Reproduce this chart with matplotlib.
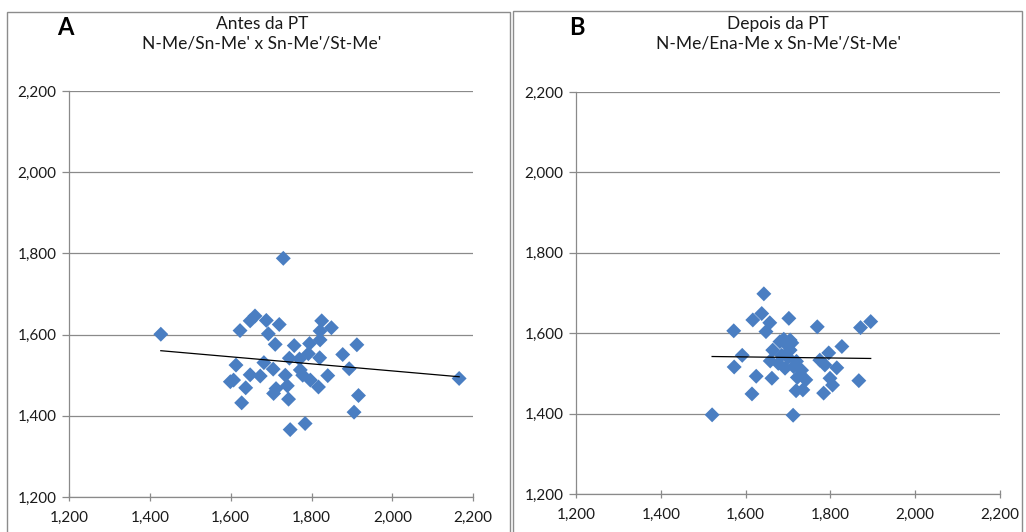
import numpy as np
import matplotlib
matplotlib.use("Agg")
import matplotlib.pyplot as plt
from matplotlib.patches import Rectangle
from matplotlib.ticker import FuncFormatter

# ---- Data: Panel A (Antes da PT) ----
a_x = [1730, 1427, 2165, 1623, 1648, 1660, 1688, 1720, 1693, 1710, 1757, 1795,
       1825, 1849, 1821, 1821, 1912, 1877, 1613, 1682, 1705, 1648, 1673, 1745,
       1770, 1792, 1820, 1772, 1735, 1778, 1797, 1817, 1840, 1893, 1599, 1607,
       1637, 1740, 1706, 1712, 1743, 1627, 1916, 1905, 1784, 1747]
a_y = [1788, 1601, 1492, 1610, 1634, 1646, 1635, 1625, 1602, 1576, 1573, 1578,
       1634, 1617, 1609, 1587, 1575, 1551, 1525, 1531, 1515, 1501, 1498, 1542,
       1540, 1553, 1543, 1513, 1500, 1500, 1488, 1471, 1499, 1516, 1484, 1488,
       1469, 1474, 1455, 1467, 1441, 1432, 1450, 1409, 1381, 1366]

# ---- Data: Panel B (Depois da PT) ----
b_x = [1643, 1638, 1617, 1657, 1702, 1769, 1871, 1895, 1572, 1648, 1681, 1690,
       1697, 1705, 1664, 1709, 1705, 1827, 1796, 1592, 1573, 1658, 1677, 1693,
       1713, 1732, 1775, 1787, 1815, 1625, 1662, 1722, 1742, 1799, 1805, 1867,
       1615, 1719, 1735, 1784, 1521, 1712, 1685, 1700, 1720]
b_y = [1698, 1649, 1633, 1626, 1637, 1616, 1614, 1629, 1606, 1604, 1579, 1585,
       1571, 1558, 1558, 1576, 1583, 1567, 1551, 1545, 1516, 1531, 1525, 1513,
       1517, 1508, 1533, 1521, 1514, 1493, 1488, 1490, 1484, 1488, 1471, 1482,
       1449, 1457, 1459, 1451, 1397, 1396, 1545, 1540, 1530]

ticks = [1200, 1400, 1600, 1800, 2000, 2200]
titles = ["Antes da PT\nN-Me/Sn-Me' x Sn-Me'/St-Me'",
          "Depois da PT\nN-Me/Ena-Me x Sn-Me'/St-Me'"]
letters = ["A", "B"]

plt.rcParams['font.family'] = ['Lato', 'DejaVu Sans']

fig = plt.figure(figsize=(10.26, 5.32), dpi=100)
fig.patch.set_facecolor('white')

axes_pos = [[0.0673, 0.0658, 0.394, 0.763],
            [0.5614, 0.0714, 0.4133, 0.7556]]
frames = [(7/1026, -0.01, 503/1026, 1 - 12/532 + 0.01),
          (513/1026, -0.01, 509/1026, 1 - 11/532 + 0.01)]
title_x = [262/1026, 778/1026]
letter_x = [57/1026, 569/1026]

fmt = FuncFormatter(lambda v, p: f"{int(v):,}")
marker_color = '#4A7EC2'

for i, (xs, ys) in enumerate([(a_x, a_y), (b_x, b_y)]):
    fx, fy, fw, fh = frames[i]
    fig.add_artist(Rectangle((fx, fy), fw, fh, transform=fig.transFigure,
                             fill=False, edgecolor='#8c8c8c', linewidth=1.0))
    ax = fig.add_axes(axes_pos[i])
    ax.set_xlim(1200, 2200)
    ax.set_ylim(1200, 2200)
    ax.set_xticks(ticks)
    ax.set_yticks(ticks)
    ax.xaxis.set_major_formatter(fmt)
    ax.yaxis.set_major_formatter(fmt)
    ax.grid(axis='y', color='#8a8a8a', linewidth=0.9)
    ax.set_axisbelow(True)
    for s in ['top', 'right']:
        ax.spines[s].set_visible(False)
    for s in ['left', 'bottom']:
        ax.spines[s].set_color('#8a8a8a')
        ax.spines[s].set_linewidth(0.9)
    ax.tick_params(axis='both', colors='#8a8a8a', labelcolor='#1a1a1a',
                   labelsize=11, length=5, width=0.9)
    ax.tick_params(axis='x', direction='inout', pad=7, length=6)
    ax.tick_params(axis='y', direction='out', pad=4)
    ax.scatter(xs, ys, marker='D', s=58, color=marker_color, zorder=3,
               edgecolors='none')
    xa = np.array(xs, dtype=float)
    ya = np.array(ys, dtype=float)
    b1, b0 = np.polyfit(xa, ya, 1)
    xl = np.array([xa.min(), xa.max()])
    ax.plot(xl, b0 + b1 * xl, color='black', linewidth=0.9, zorder=4)
    fig.text(title_x[i], 1 - 33.5/532, titles[i], ha='center', va='center',
             fontsize=12.5, color='#1a1a1a', linespacing=1.3)
    fig.text(letter_x[i], 1 - 28/532, letters[i], ha='left', va='center',
             fontsize=17, fontweight='bold', color='black')

fig.savefig('out.png', dpi=100, facecolor='white')
